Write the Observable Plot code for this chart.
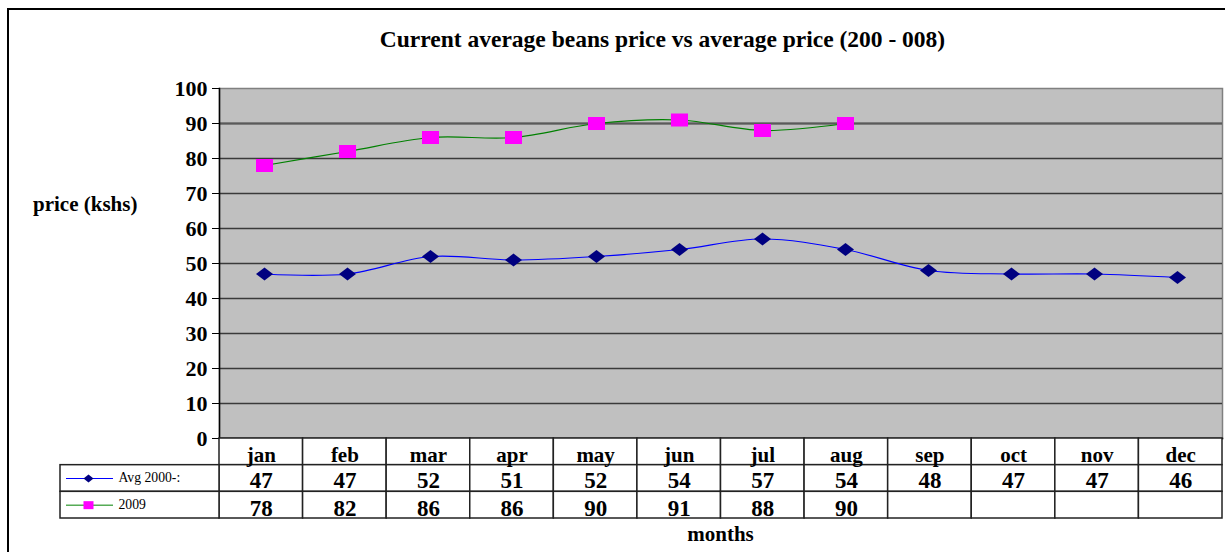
<!DOCTYPE html>
<html>
<head>
<meta charset="utf-8">
<script src="https://cdn.jsdelivr.net/npm/d3@7"></script>
<script src="https://cdn.jsdelivr.net/npm/@observablehq/plot@0.6"></script>
<style>
  html, body { margin: 0; padding: 0; background: #fff; }
  #wrap { position: relative; width: 1225px; height: 552px; overflow: hidden; font-family: "Liberation Serif", "Times New Roman", serif; color: #000; }
  #border { position: absolute; left: 7px; top: 8px; width: 1300px; height: 700px; border-left: 2px solid #000; border-top: 2px solid #000; }
  .abs { position: absolute; white-space: nowrap; font-weight: bold; line-height: 1; }
  #title { left: 0; width: 1325px; top: 28px; font-size: 23.5px; text-align: center; }
  #ylabel { left: 33px; top: 194px; font-size: 21px; }
  #xlabel { left: 0; width: 1441px; top: 524px; font-size: 21px; text-align: center; }
  #main { position: absolute; left: 0; top: 0; }
  #table { position: absolute; left: 0; top: 437px; }
</style>
</head>
<body>
<div id="wrap">
  <div id="border"></div>
  <div id="main"></div>
  <div id="table"></div>
  <div id="title" class="abs">Current average beans price vs average price (200 - 008)</div>
  <div id="ylabel" class="abs">price (kshs)</div>
  <div id="xlabel" class="abs">months</div>
</div>
<script>
const months = ["jan","feb","mar","apr","may","jun","jul","aug","sep","oct","nov","dec"];
const avgValues = [47,47,52,51,52,54,57,54,48,47,47,46];
const values2009 = [78,82,86,86,90,91,88,90];
const yTicks = [0,10,20,30,40,50,60,70,80,90,100];
const seriesNames = ["Avg 2000-:", "2009"];

const avgData = avgValues.map((v, i) => ({month: months[i], value: v}));
const data2009 = values2009.map((v, i) => ({month: months[i], value: v}));

function diamondSymbol(w, h) {
  return {draw(ctx) { ctx.moveTo(0, -h); ctx.lineTo(w, 0); ctx.lineTo(0, h); ctx.lineTo(-w, 0); ctx.closePath(); }};
}
function rectSymbol(w, h) {
  return {draw(ctx) { ctx.rect(-w, -h, 2 * w, 2 * h); }};
}

const font = "'Liberation Serif', 'Times New Roman', serif";
const plotLeft = 219, plotRight = 1222, W = 1225;

const main = Plot.plot({
  width: W, height: 440,
  marginTop: 88, marginBottom: 2, marginLeft: plotLeft, marginRight: W - plotRight,
  style: {background: "transparent", fontFamily: font, color: "#000", overflow: "visible"},
  x: {type: "point", domain: months, padding: 0.5, axis: null},
  y: {domain: [0, 100], axis: null},
  marks: [
    Plot.frame({fill: "#c0c0c0", stroke: "#808080", strokeWidth: 1.5}),
    Plot.ruleY(yTicks.filter(t => t > 0 && t < 100), {stroke: "#3a3a3a", strokeWidth: 1.5}),
    Plot.ruleY([90], {stroke: "#5a5a5a", strokeWidth: 2}),
    Plot.axisY(yTicks, {tickSize: 7, tickPadding: 5, fontSize: 22, fontWeight: "bold", label: null, stroke: "#000"}),
    Plot.frame({anchor: "left", stroke: "#000", strokeWidth: 1.5}),
    Plot.frame({anchor: "bottom", stroke: "#000", strokeWidth: 1.5}),
    Plot.line(avgData, {x: "month", y: "value", curve: "catmull-rom", stroke: "#0000ff", strokeWidth: 1.2}),
    Plot.dot(avgData, {x: "month", y: "value", symbol: diamondSymbol(8.5, 6.5), fill: "#000080", stroke: "none", r: 5}),
    Plot.line(data2009, {x: "month", y: "value", curve: "catmull-rom", stroke: "#008000", strokeWidth: 1.2}),
    Plot.dot(data2009, {x: "month", y: "value", symbol: rectSymbol(8.5, 6.5), fill: "#ff00ff", stroke: "none", r: 5})
  ]
});
document.getElementById("main").appendChild(main);

// Table under the chart (columns are the month bands, one legend column on the left)
const colW = (plotRight - plotLeft) / months.length;
const legendLeft = 60;
const xLeft = -(plotLeft - legendLeft) / colW;
const tableCells = [];
months.forEach((m, i) => { for (let r = 0; r < 3; r++) tableCells.push({x1: i, x2: i + 1, y1: r, y2: r + 1}); });
tableCells.push({x1: xLeft, x2: 0, y1: 1, y2: 2}, {x1: xLeft, x2: 0, y1: 2, y2: 3});

const legendItems = [
  {name: seriesNames[0], row: 1.5, line: "#0000ff", fill: "#000080", symbol: diamondSymbol(5, 4)},
  {name: seriesNames[1], row: 2.5, line: "#008000", fill: "#ff00ff", symbol: rectSymbol(5, 4)}
];

const table = Plot.plot({
  width: W, height: 84,
  marginTop: 0, marginBottom: 0, marginLeft: legendLeft, marginRight: W - plotRight,
  style: {background: "transparent", fontFamily: font, color: "#000", overflow: "visible"},
  x: {domain: [xLeft, months.length], axis: null},
  y: {domain: [0, 3], range: [1, 81], axis: null},
  marks: [
    Plot.rect(tableCells, {x1: "x1", x2: "x2", y1: "y1", y2: "y2", fill: "white", stroke: "#222", strokeWidth: 1.5}),
    Plot.text(months, {x: (d, i) => i + 0.5, y: () => 0.5, text: d => d, fontSize: 21, fontWeight: "bold", dy: 3}),
    Plot.text(avgValues, {x: (d, i) => i + 0.5, y: () => 1.5, text: d => String(d), fontSize: 23, fontWeight: "bold", dy: 2}),
    Plot.text(values2009, {x: (d, i) => i + 0.5, y: () => 2.5, text: d => String(d), fontSize: 23, fontWeight: "bold", dy: 3}),
    ...legendItems.map(it => Plot.ruleY([it.row], {x1: xLeft + 6 / colW, x2: xLeft + 53 / colW, stroke: it.line, strokeWidth: 1})),
    ...legendItems.map(it => Plot.dot([it.row], {x: () => xLeft + 28 / colW, y: d => d, symbol: it.symbol, fill: it.fill, stroke: "none", r: 3})),
    Plot.text(legendItems, {x: () => xLeft + 58 / colW, y: "row", text: "name", textAnchor: "start", fontSize: 13.7, fontWeight: "normal", dy: -1})
  ]
});
document.getElementById("table").appendChild(table);
</script>
</body>
</html>
